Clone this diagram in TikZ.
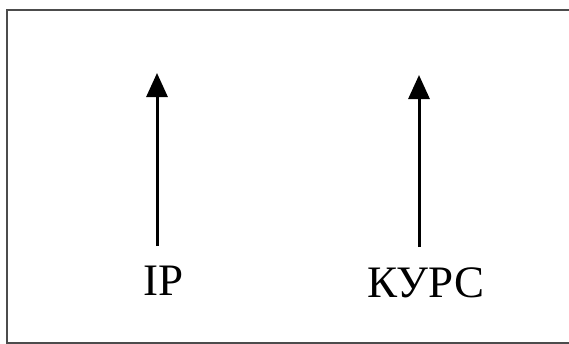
\documentclass[tikz,border=0pt]{standalone}
\usepackage{fontspec}
\setmainfont{Liberation Serif}
\usepackage{xcolor}
\usetikzlibrary{arrows.meta, positioning}

\begin{document}
\begin{tikzpicture}[x=1pt, y=-1pt, >={Triangle[length=24pt, width=21pt]},
        lbl/.style={font=\fontsize{45}{54}\selectfont, inner sep=0pt},
        upline/.style={->, line width=3pt}]
        \useasboundingbox (0,0) rectangle (569,343);
        \draw[black!70, line width=2pt] (7,10) rectangle (575,343);

        \node[lbl] (ip)   at (164,281) {IP};
        \node[lbl] (kurs) at (426,283) {КУРС};

        \coordinate (ip bot)   at (157,246);
        \coordinate (ip top)   at (157,73);
        \coordinate (kurs bot) at (419,247);
        \coordinate (kurs top) at (419,75);

        \draw[upline] (ip bot) -- (ip top);
        \draw[upline] (kurs bot) -- (kurs top);
\end{tikzpicture}
\end{document}
